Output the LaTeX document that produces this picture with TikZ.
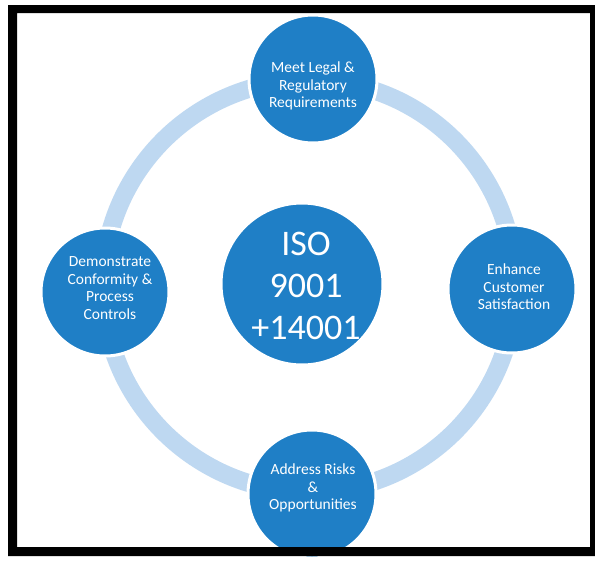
\documentclass[tikz,border=0pt]{standalone}
\usepackage{fontspec}
\setmainfont{Carlito}
\definecolor{dotblue}{RGB}{31,127,198}
\definecolor{ringblue}{RGB}{190,216,241}
\begin{document}
\begin{tikzpicture}[x=1pt,y=-1pt,
  smallc/.style={circle,fill=dotblue,draw=white,line width=3pt,minimum size=128pt,inner sep=0pt},
  bigc/.style={circle,fill=dotblue,draw=white,line width=3pt,minimum size=162pt,inner sep=0pt},
  smallt/.style={text=white,align=center,inner sep=0pt,font=\fontsize{15.5}{17.5}\selectfont},
  bigt/.style={text=white,align=center,inner sep=0pt,font=\fontsize{36}{42}\selectfont}]
\useasboundingbox (0,0) rectangle (595,563);
\fill[white] (0,0) rectangle (595,563);
\coordinate (rc) at (309,286);
\draw[ringblue,line width=18pt] (rc) circle[radius=206pt];
\node[smallc] (top) at (313,79) {};
\node[smallc] (left) at (105,292) {};
\node[smallc] (right) at (512,289) {};
\node[smallc] (bottom) at (312,494) {};
\node[bigc] (iso) at (302,284) {};
\node[smallt] (toptext) at ([shift={(0,7)}]top.center) {Meet Legal \&\\Regulatory\\Requirements};
\node[smallt] (lefttext) at ([shift={(5,-4)}]left.center) {Demonstrate\\Conformity \&\\Process\\Controls};
\node[smallt] (righttext) at ([shift={(2,-2)}]right.center) {Enhance\\Customer\\Satisfaction};
\node[smallt] (bottomtext) at ([shift={(1,-6)}]bottom.center) {Address Risks\\\&\\Opportunities};
\node[bigt] (isotext) at ([shift={(4,2)}]iso.center) {ISO\\9001\\+14001};
\fill[black,even odd rule] (8,5) rectangle (595,556) (17,13) rectangle (590,547);
\end{tikzpicture}
\end{document}
